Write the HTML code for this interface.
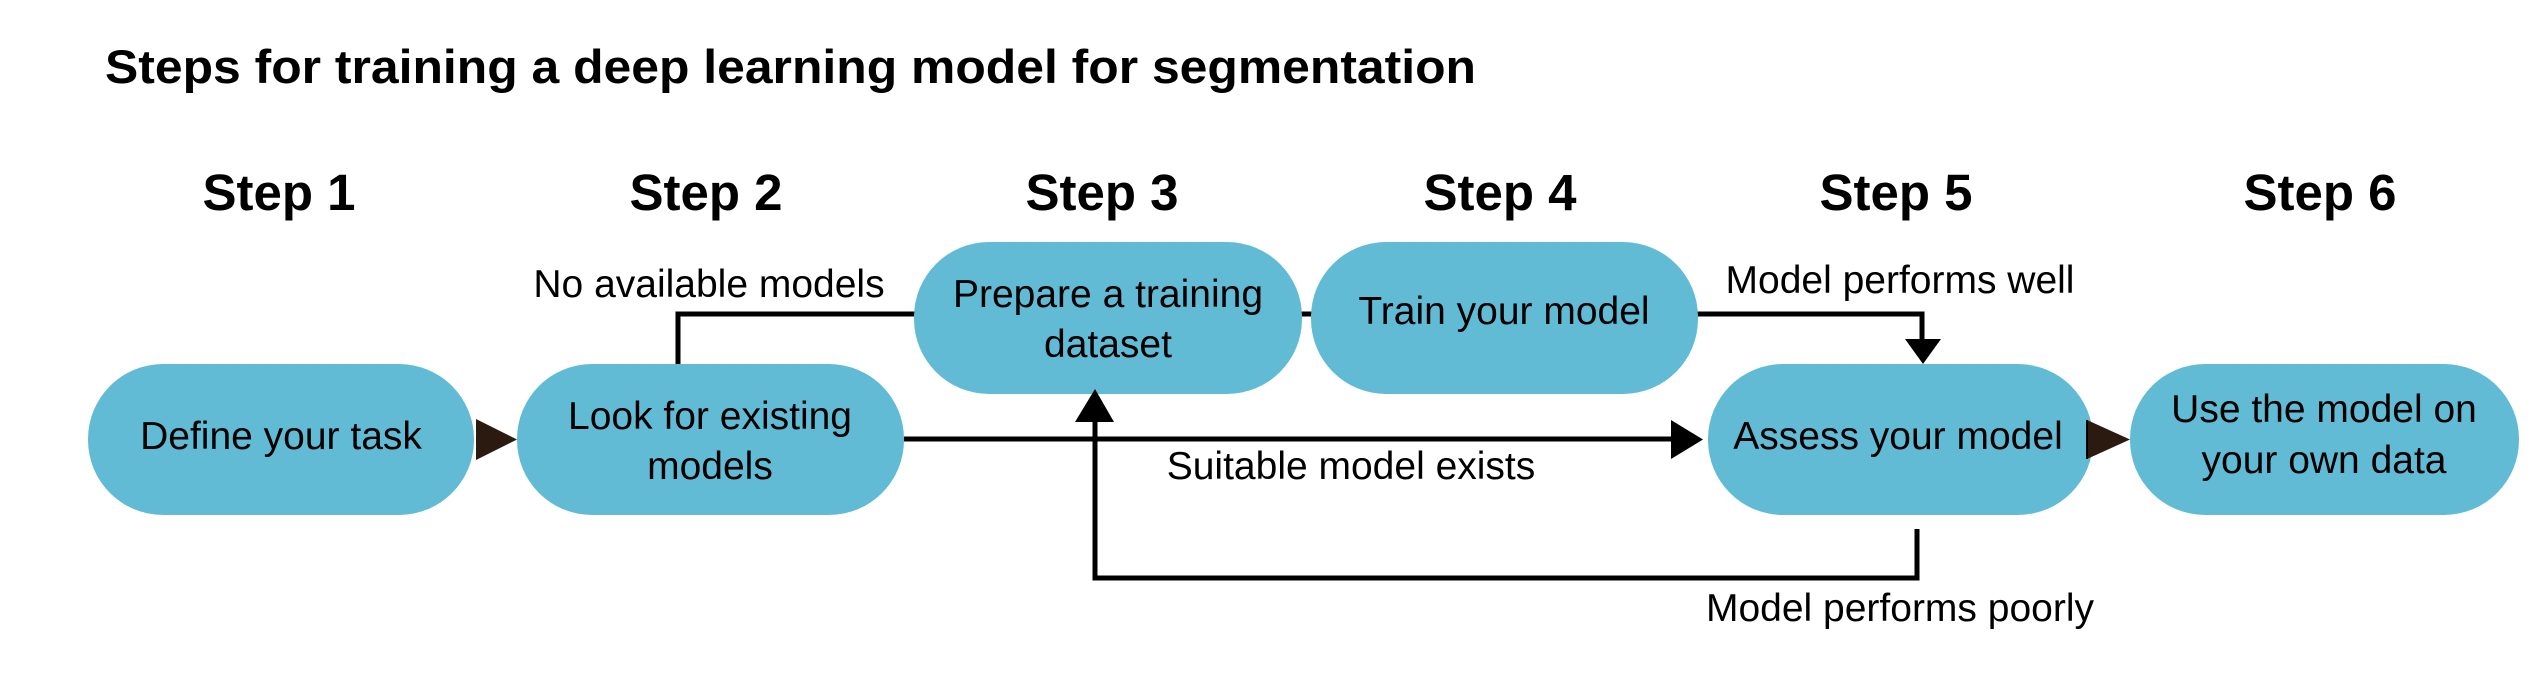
<!DOCTYPE html>
<html><head><meta charset="utf-8"><style>
html,body{margin:0;padding:0;background:#fff;}
svg{display:block;font-family:"Liberation Sans",Arial,sans-serif;}
</style></head><body>
<svg width="2544" height="683" viewBox="0 0 2544 683" xmlns="http://www.w3.org/2000/svg">
<text x="105" y="83" font-size="47" font-weight="bold" textLength="1371" lengthAdjust="spacingAndGlyphs">Steps for training a deep learning model for segmentation</text>
<g font-size="51" font-weight="bold" text-anchor="middle">
<text x="279" y="210">Step 1</text>
<text x="706" y="210">Step 2</text>
<text x="1102" y="210">Step 3</text>
<text x="1500" y="210">Step 4</text>
<text x="1896" y="210">Step 5</text>
<text x="2320" y="210">Step 6</text>
</g>
<g fill="none" stroke="#000" stroke-width="5">
<polyline points="678,364 678,314 916,314"/>
<line x1="1300" y1="314" x2="1313" y2="314"/>
<polyline points="1696,314 1922,314 1922,342"/>
<line x1="904" y1="439" x2="1673" y2="439"/>
<polyline points="1095,418 1095,578 1917,578 1917,529"/>
</g>
<g fill="#62bbd4">
<rect x="88" y="364" width="386" height="151" rx="75" ry="75"/>
<rect x="517" y="364" width="387" height="151" rx="75" ry="75"/>
<rect x="914" y="242" width="388" height="152" rx="75" ry="75"/>
<rect x="1311" y="242" width="387" height="152" rx="75" ry="75"/>
<rect x="1708" y="364" width="385" height="151" rx="75" ry="75"/>
<rect x="2130" y="364" width="389" height="151" rx="75" ry="75"/>
</g>
<polygon points="476,419 517,439.5 476,460" fill="#2a1a10"/>
<polygon points="2087,420 2130,439.5 2087,459" fill="#2a1a10"/>
<line x1="2087" y1="420" x2="2087" y2="459" stroke="#000" stroke-width="2"/>
<polygon points="1671,420 1703,439.5 1671,459" fill="#000"/>
<polygon points="1905,339 1941,339 1923,364" fill="#000"/>
<polygon points="1075,422 1114,422 1095,389" fill="#000"/>
<g font-size="39" text-anchor="middle" fill="#000">
<text x="281" y="449">Define your task</text>
<text x="710" y="429">Look for existing</text>
<text x="710" y="479">models</text>
<text x="1108" y="307">Prepare a training</text>
<text x="1108" y="357">dataset</text>
<text x="1504" y="324">Train your model</text>
<text x="1898" y="449">Assess your model</text>
<text x="2324" y="422">Use the model on</text>
<text x="2324" y="473">your own data</text>
<text x="709" y="297">No available models</text>
<text x="1351" y="479">Suitable model exists</text>
<text x="1900" y="293">Model performs well</text>
<text x="1900" y="621">Model performs poorly</text>
</g>
</svg>
</body></html>
